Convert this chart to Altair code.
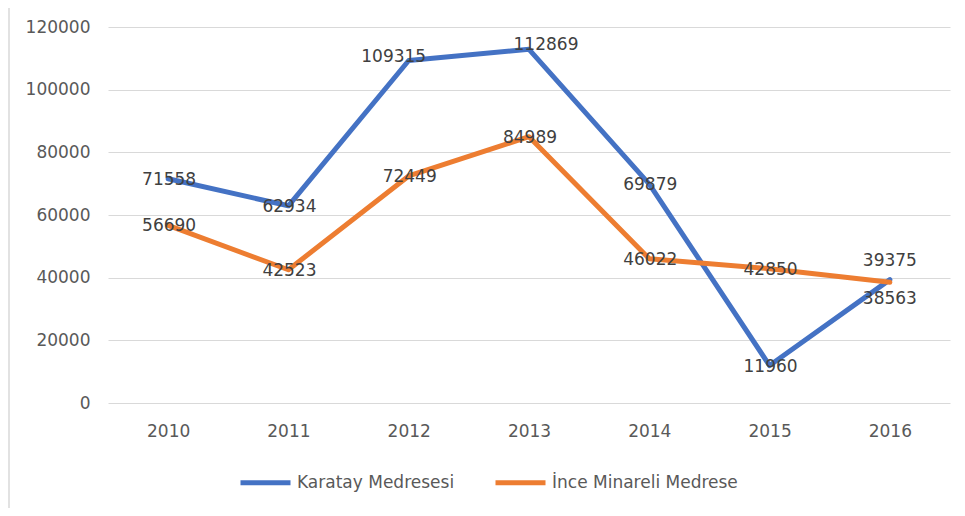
import altair as alt
import pandas as pd

years = ["2010", "2011", "2012", "2013", "2014", "2015", "2016"]
karatay = [71558, 62934, 109315, 112869, 69879, 11960, 39375]
ince = [56690, 42523, 72449, 84989, 46022, 42850, 38563]
series_names = ["Karatay Medresesi", "İnce Minareli Medrese"]
colors = ["#4472C4", "#ED7D31"]
y_ticks = [0, 20000, 40000, 60000, 80000, 100000, 120000]

rows = []
for name, vals in zip(series_names, [karatay, ince]):
    for yr, v in zip(years, vals):
        rows.append({"year": yr, "series": name, "value": v})
df = pd.DataFrame(rows)

FONT = "DejaVu Sans"
FS = 17

x_enc = alt.X(
    "year:N", sort=years,
    scale=alt.Scale(type="point", padding=0.5),
    axis=alt.Axis(title=None, labelAngle=0, domain=False, ticks=False, grid=False,
                  labelPadding=20, labelFont=FONT, labelFontSize=FS, labelColor="#595959"),
)
y_enc = alt.Y(
    "value:Q",
    scale=alt.Scale(domain=[0, 120000], nice=False),
    axis=alt.Axis(title=None, values=y_ticks, format="d", domain=False, ticks=False,
                  grid=True, gridColor="#d9d9d9", gridWidth=1.2, labelPadding=18,
                  labelFont=FONT, labelFontSize=FS, labelColor="#595959"),
)

base = alt.Chart(df)

lines = base.mark_line(strokeWidth=5, strokeCap="round", strokeJoin="round").encode(
    x=x_enc, y=y_enc,
    color=alt.Color(
        "series:N",
        scale=alt.Scale(domain=series_names, range=colors),
        legend=alt.Legend(orient="none", legendX=130, legendY=428, direction="horizontal",
                          title=None, symbolType="stroke", symbolSize=2500,
                          symbolStrokeWidth=5, labelFont=FONT, labelFontSize=FS,
                          labelColor="#595959", columnPadding=30, labelOffset=4,
                          labelLimit=0, padding=0),
    ),
    order=alt.Order("year:N"),
)

K = "datum.series == 'Karatay Medresesi'"
I = "datum.series == 'İnce Minareli Medrese'"
special = {
    "k2012": f"{K} && datum.year == '2012'",
    "k2013": f"{K} && datum.year == '2013'",
    "k2016": f"{K} && datum.year == '2016'",
    "i2016": f"{I} && datum.year == '2016'",
}
others = " && ".join(f"!({v})" for v in special.values())


def text_layer(flt, dx=0, dy=0):
    return base.transform_filter(flt).mark_text(
        font=FONT, fontSize=FS, color="#404040", align="center", baseline="middle",
        dx=dx, dy=dy,
    ).encode(x=alt.X("year:N", sort=years), y="value:Q", text=alt.Text("value:Q", format="d"))


labels = [
    text_layer(others, dx=1, dy=1),
    text_layer(special["k2012"], dx=-15, dy=-3),
    text_layer(special["k2013"], dx=17, dy=-4),
    text_layer(special["k2016"], dx=0, dy=-19),
    text_layer(special["i2016"], dx=0, dy=17),
]

border = alt.Chart(pd.DataFrame({"a": [0]})).mark_rule(color="#d9d9d9", strokeWidth=1.5).encode(
    x=alt.value(-99), y=alt.value(-19), y2=alt.value(481)
)

chart = alt.layer(border, lines, *labels).properties(
    width=842, height=376,
    autosize=alt.AutoSizeParams(type="none"),
    padding={"left": 100, "top": 19, "right": 7, "bottom": 105},
    background="white",
).configure_view(stroke=None)

chart.save("out.html", embed_options={"renderer": "svg", "actions": False})
